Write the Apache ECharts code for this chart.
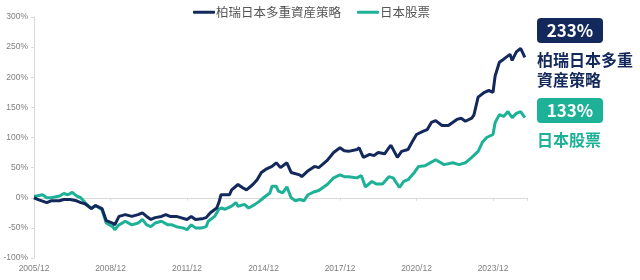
<!DOCTYPE html>
<html>
<head>
<meta charset="utf-8">
<script src="https://cdn.jsdelivr.net/npm/echarts@6/dist/echarts.min.js"></script>
<style>html,body{margin:0;padding:0;background:#fff;}#c{width:640px;height:280px;}</style>
</head>
<body>
<div id="c"></div>
<script>
// x values are months since 2005/12
var xTickLabels = ['2005/12','2008/12','2011/12','2014/12','2017/12','2020/12','2023/12'];
var seriesNames = ['柏瑞日本多重資産策略','日本股票'];
var finalLabels = ['233%','133%'];
var annotNames = [['柏瑞日本多重','資産策略'],['日本股票']];

var multiMonths = [0,2,6,8,12,14,17,20,22,24,27,29,32,33,34,37,38,40,43,46,49,51,53,55,57,60,62,64,67,69,72,74,76,79,81,83,86,87,88,90,92,93,96,98,100,103,105,107,109,112,114,116,119,121,125,126,129,132,134,138,141,144,146,148,152,153,155,158,160,162,165,167,168,171,173,176,178,180,183,185,187,189,192,195,199,201,203,206,207,209,212,214,216,217,219,221,224,225,227,229,231];
var multiValues = [0,-3,-8,-5,-5,-3,-3,-5,-8,-10,-18,-13,-18,-28,-38,-42,-45,-31,-28,-31,-28,-25,-31,-36,-33,-31,-28,-31,-31,-33,-36,-31,-36,-35,-33,-25,-17,-8,5,5,5,13,22,17,13,22,30,42,47,52,58,50,58,42,38,35,45,52,50,62,75,83,78,77,80,83,67,72,70,75,73,83,87,67,77,80,93,105,110,113,125,128,120,120,130,132,127,132,137,167,175,178,175,202,225,230,238,228,242,248,233];

var japanMonths = [0,4,6,8,12,14,16,18,20,22,24,27,29,32,33,34,37,38,40,43,46,49,51,53,55,57,60,63,65,67,70,72,74,76,79,81,82,85,87,88,90,93,95,96,99,101,104,106,108,111,112,114,115,117,119,121,123,125,127,129,132,134,138,141,144,146,148,152,154,156,159,161,164,167,169,172,174,176,179,181,184,186,189,193,197,200,203,206,209,211,213,216,217,219,221,223,225,227,229,231];
var japanValues = [2,5,0,0,3,7,5,9,3,0,-8,-18,-13,-20,-31,-42,-48,-53,-45,-39,-45,-42,-36,-45,-48,-42,-39,-45,-45,-48,-50,-53,-45,-50,-50,-48,-39,-31,-19,-17,-19,-14,-8,-14,-11,-17,-11,-6,0,8,19,19,11,8,18,0,-5,-3,-5,5,10,12,22,33,38,35,35,33,37,18,27,23,23,35,33,17,27,30,42,52,53,57,63,55,58,55,58,67,77,92,100,105,125,138,135,143,133,140,143,133];

var navy = '#13295b', teal = '#1db197';
function pairs(xs, ys){ return xs.map(function(x,i){ return [x, ys[i]]; }); }
function badge(top, text, color){
  return {type:'rect', left:537, top:top, shape:{width:66, height:25, r:4}, style:{fill:color},
    textContent:{style:{text:text, fill:'#fff', font:'bold 17px "Noto Sans CJK TC"'}},
    textConfig:{position:'inside'}};
}

var chart = echarts.init(document.getElementById('c'));
var axisGray = '#d9d9d9';
chart.setOption({
  animation:false,
  grid:{left:34, right:113, top:17, bottom:22, containLabel:false},
  legend:{
    top:1, left:188, itemGap:16, itemWidth:22, itemHeight:3, icon:'roundRect',
    textStyle:{fontFamily:'Noto Sans CJK TC', fontSize:12.5, color:'#555', padding:[0,0,0,-4]},
    data:seriesNames
  },
  xAxis:[{
    type:'value', min:0, max:232, interval:36,
    axisLine:{show:false, onZero:false}, axisTick:{show:false}, splitLine:{show:false},
    axisLabel:{margin:6, fontFamily:'Liberation Sans', fontSize:8.5, color:'#7f7f7f', showMaxLabel:false,
      formatter:function(v){ return (v % 36 === 0 && v < 232) ? (xTickLabels[v/36] || '') : ''; }}
  },{
    type:'value', min:0, max:232, interval:36, position:'top',
    axisLine:{show:true, onZero:true, lineStyle:{color:axisGray, width:1}},
    axisTick:{show:true, inside:true, length:3, lineStyle:{color:axisGray}},
    axisLabel:{show:false}, splitLine:{show:false}
  }],
  yAxis:{
    type:'value', min:-100, max:300, interval:50,
    axisLine:{show:true, lineStyle:{color:axisGray}},
    axisTick:{show:true, length:3, lineStyle:{color:axisGray}},
    splitLine:{show:false},
    axisLabel:{margin:6, fontFamily:'Liberation Sans', fontSize:8.5, color:'#7f7f7f', formatter:'{value}%'}
  },
  series:[
    {name:seriesNames[1], type:'line', data:pairs(japanMonths, japanValues), showSymbol:false, symbol:'none',
      lineStyle:{color:teal, width:3}, itemStyle:{color:teal}, z:2},
    {name:seriesNames[0], type:'line', data:pairs(multiMonths, multiValues), showSymbol:false, symbol:'none',
      lineStyle:{color:navy, width:3}, itemStyle:{color:navy}, z:3}
  ],
  graphic:[
    badge(18, finalLabels[0], navy),
    {type:'text', left:537, top:50, style:{text:annotNames[0].join('\n'), fill:navy, font:'bold 16px "Noto Sans CJK TC"', lineHeight:20}},
    badge(98, finalLabels[1], teal),
    {type:'text', left:537, top:130, style:{text:annotNames[1].join('\n'), fill:teal, font:'bold 16px "Noto Sans CJK TC"', lineHeight:20}}
  ]
});
</script>
</body>
</html>
